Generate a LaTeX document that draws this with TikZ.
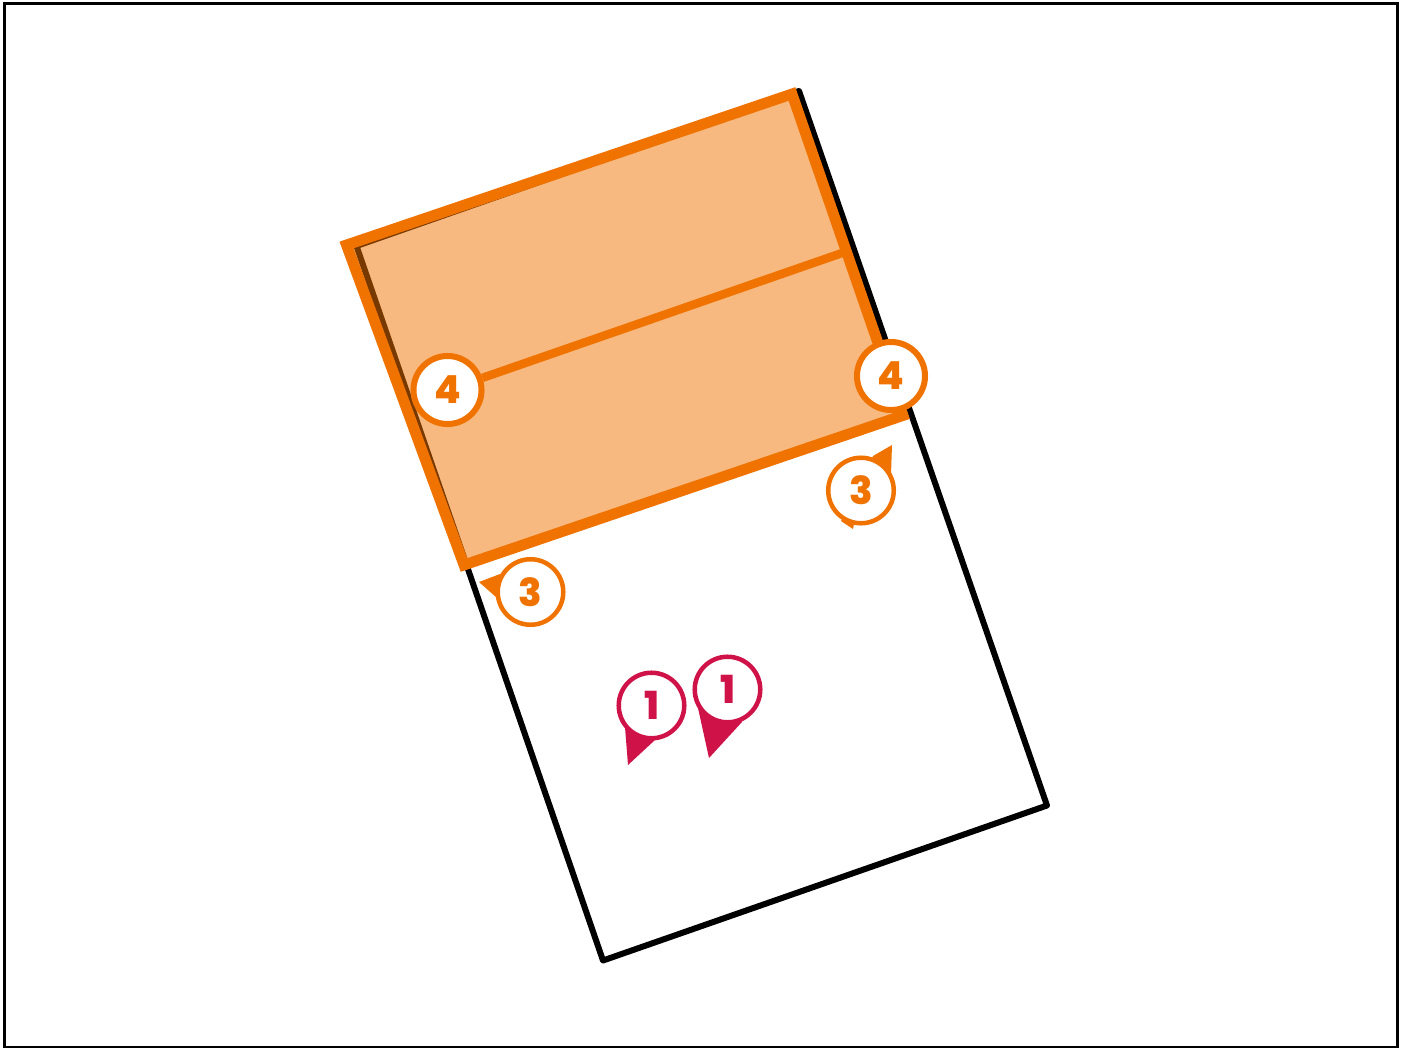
\documentclass[tikz,border=0pt]{standalone}
\usepackage{fontspec}
\setsansfont[BoldFont={Poppins ExtraBold}]{Poppins}
\definecolor{mkorange}{HTML}{F07300}
\definecolor{mkred}{HTML}{CF1349}

\begin{document}
\begin{tikzpicture}[
  x=0.01cm, y=-0.01cm,
  font=\sffamily\bfseries\fontsize{11}{13}\selectfont,
  outline/.style={draw=black, line width=0.06cm, line join=round, line cap=round},
  zone/.style={draw=mkorange, line width=0.108cm, fill=mkorange, fill opacity=0.5, draw opacity=1, line join=miter},
  divider/.style={draw=mkorange, line width=0.085cm},
  badge/.style={circle, draw=mkorange, fill=white, line width=0.06cm, inner sep=0pt, minimum size=0.68cm, text=mkorange},
  pinor/.style={circle, draw=mkorange, fill=white, line width=0.045cm, inner sep=0pt, minimum size=0.655cm, text=mkorange},
  pinred/.style={circle, draw=mkred, fill=white, line width=0.045cm, inner sep=0pt, minimum size=0.655cm, text=mkred},
]
  \useasboundingbox (0,0) rectangle (1405,1048);
  % page frame
  \draw[black, line width=0.035cm] (4.5,3.5) rectangle (1397.5,1047.5);

  % plot and highlighted part
  \draw[outline] (799,91) -- (1047,805.5) -- (603,960.5) -- (356.5,246) -- cycle;
  \path[zone] (346.5,245) -- (792,94) -- (903,415.5) -- (464,565) -- cycle;

  % pin tails
  \fill[mkorange] (892,445) -- (873,456) -- (861,490) -- (891,475) -- cycle;
  \fill[mkorange] (841,521) -- (853,529) -- (861,490) -- cycle;
  \fill[mkorange] (479,582) -- (500,574) -- (530,592) -- (497,598) -- cycle;
  \fill[mkred] (628,765) -- (625,727) -- (652,705) -- (655,740) -- cycle;
  \fill[mkred] (709,758) -- (698,708) -- (728,690) -- (742,722) -- cycle;

  % markers
  \node[badge] (fourleft) at (447.5,390) {4};
  \node[badge] (fourright) at (891,376) {4};
  \node[pinor] (threeright) at (861,490.5) {3};
  \node[pinor] (threeleft) at (530.5,592) {3};
  \node[pinred] (oneleft) at (651.5,705.5) {1};
  \node[pinred] (oneright) at (727.5,689.5) {1};

  \coordinate (midend) at (845,252);
  \draw[divider] (fourleft) -- (midend);
\end{tikzpicture}
\end{document}
